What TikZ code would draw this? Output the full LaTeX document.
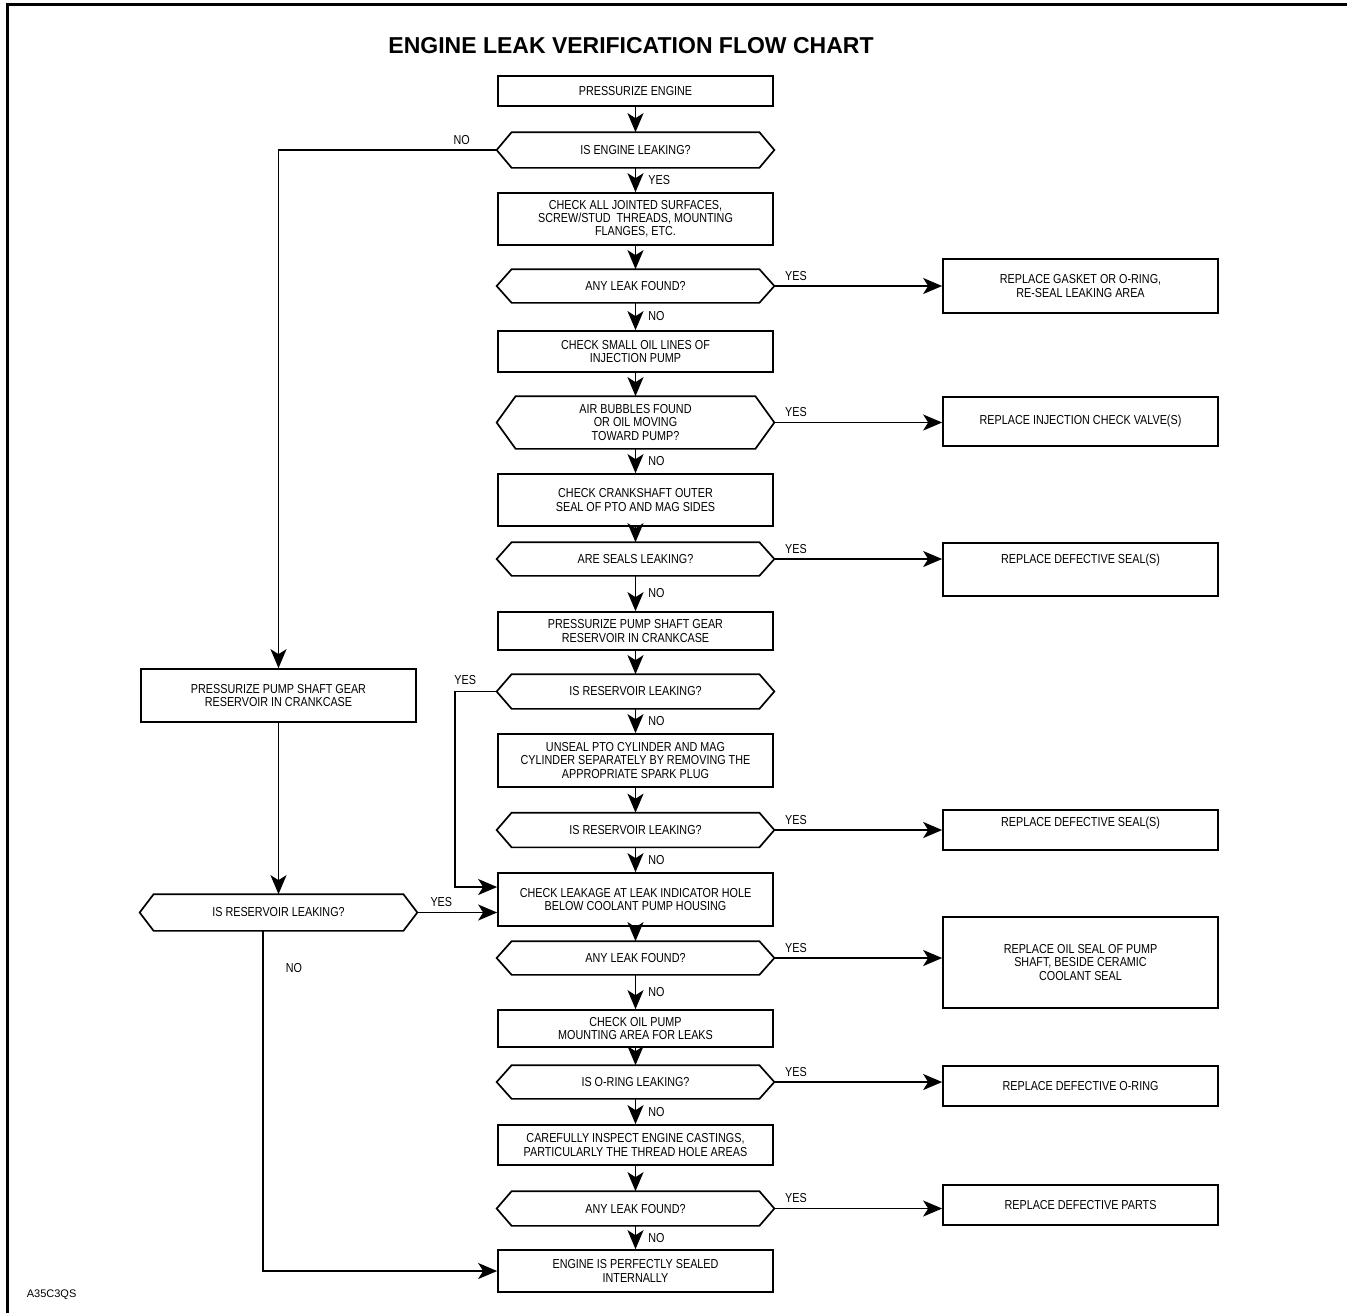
\documentclass[tikz,border=0pt]{standalone}
\usepackage{fontspec}
\setmainfont{Liberation Sans}
\newfontfamily\condfont{Liberation Sans}[FakeStretch=0.83]
\usetikzlibrary{arrows.meta}

\begin{document}
\begin{tikzpicture}[
            x=0.5pt, y=-0.5pt,
            line width=0.85pt,
            every node/.style = {inner sep=0pt, align=center, font=\condfont\fontsize{6.5}{6.6}\selectfont},
            stepbox/.style = {draw, line width=0.85pt, minimum width=137.5pt},
            query/.style = {minimum width=138pt},
            arr/.style = {-{Stealth[length=9.5pt, width=8pt, inset=2.5pt]}},
            lbl/.style = {inner sep=1pt}
          ]
          \useasboundingbox (0,0) rectangle (1347,1313);
          \draw[line width=1.5pt] (7.5,1313) -- (7.5,4.5) -- (1347,4.5);
          \node[font=\bfseries\fontsize{11.5}{12}\selectfont] (title) at (631,46) {ENGINE LEAK VERIFICATION FLOW CHART};
          \node[font=\fontsize{5.5}{6}\selectfont, anchor=west] (code) at (26,1295) {A35C3QS};

          \node[stepbox, minimum height=15pt] (b1) at (635.5,91) {PRESSURIZE ENGINE};
          \node[query, minimum height=17pt] (q1) at (635.5,150) {IS ENGINE LEAKING?};
          \node[stepbox, minimum height=26pt] (b2) at (635.5,219) {CHECK ALL JOINTED SURFACES,\\SCREW/STUD~ THREADS, MOUNTING\\FLANGES, ETC.};
          \node[query, minimum height=16pt] (q2) at (635.5,286) {ANY LEAK FOUND?};
          \node[stepbox, minimum height=20.5pt] (b3) at (635.5,351.5) {CHECK SMALL OIL LINES OF\\INJECTION PUMP};
          \node[query, minimum height=25.5pt] (q3) at (635.5,422.5) {AIR BUBBLES FOUND\\OR OIL MOVING\\TOWARD PUMP?};
          \node[stepbox, minimum height=26pt] (b4) at (635.5,500) {CHECK CRANKSHAFT OUTER\\SEAL OF PTO AND MAG SIDES};
          \node[query, minimum height=16pt] (q4) at (635.5,559) {ARE SEALS LEAKING?};
          \node[stepbox, minimum height=19pt] (b5) at (635.5,631) {PRESSURIZE PUMP SHAFT GEAR\\RESERVOIR IN CRANKCASE};
          \node[query, minimum height=16.5pt] (q5) at (635.5,691.5) {IS RESERVOIR LEAKING?};
          \node[stepbox, minimum height=26.5pt] (b6) at (635.5,760.5) {UNSEAL PTO CYLINDER AND MAG\\CYLINDER SEPARATELY BY REMOVING THE\\APPROPRIATE SPARK PLUG};
          \node[query, minimum height=16.5pt] (q6) at (635.5,830) {IS RESERVOIR LEAKING?};
          \node[stepbox, minimum height=26.5pt] (b7) at (635.5,899.5) {CHECK LEAKAGE AT LEAK INDICATOR HOLE\\BELOW COOLANT PUMP HOUSING};
          \node[query, minimum height=16pt] (q7) at (635.5,958) {ANY LEAK FOUND?};
          \node[stepbox, minimum height=18.5pt] (b8) at (635.5,1028.5) {CHECK OIL PUMP\\MOUNTING AREA FOR LEAKS};
          \node[query, minimum height=16pt] (q8) at (635.5,1082) {IS O-RING LEAKING?};
          \node[stepbox, minimum height=20pt] (b9) at (635.5,1145) {CAREFULLY INSPECT ENGINE CASTINGS,\\PARTICULARLY THE THREAD HOLE AREAS};
          \node[query, minimum height=16.5pt] (q9) at (635.5,1208.5) {ANY LEAK FOUND?};
          \node[stepbox, minimum height=21pt] (b10) at (635.5,1271) {ENGINE IS PERFECTLY SEALED\\INTERNALLY};

          \node[stepbox, minimum height=27pt] (r1) at (1080.5,286) {REPLACE GASKET OR O-RING,\\RE-SEAL LEAKING AREA};
          \node[stepbox, minimum height=24.5pt] (r2) at (1080.5,421.5) {REPLACE INJECTION CHECK VALVE(S)};
          \node[stepbox, text height=10.3pt, text depth=16.2pt, anchor=base] (r3) at (1080.5,563.6) {REPLACE DEFECTIVE SEAL(S)};
          \node[stepbox, text height=8.3pt, text depth=11.7pt, anchor=base] (r4) at (1080.5,826.6) {REPLACE DEFECTIVE SEAL(S)};
          \node[stepbox, minimum height=45.5pt] (r5) at (1080.5,962.5) {REPLACE OIL SEAL OF PUMP\\SHAFT, BESIDE CERAMIC\\COOLANT SEAL};
          \node[stepbox, minimum height=20pt] (r6) at (1080.5,1086) {REPLACE DEFECTIVE O-RING};
          \node[stepbox, minimum height=20pt] (r7) at (1080.5,1205) {REPLACE DEFECTIVE PARTS};

          \node[stepbox, minimum height=26.5pt] (l1) at (278.5,695.5) {PRESSURIZE PUMP SHAFT GEAR\\RESERVOIR IN CRANKCASE};
          \node[query, minimum height=17.5pt] (lq) at (278.5,912.5) {IS RESERVOIR LEAKING?};

          \foreach \q/\d in {q1/7.5, q2/7.5, q3/9.5, q4/7.5, q5/7.5, q6/7.5, q7/7.5, q8/7.5, q9/7.5, lq/7}
            \draw[line width=0.85pt] (\q.west) -- ([xshift=\d pt]\q.north west) -- ([xshift=-\d pt]\q.north east)
              -- (\q.east) -- ([xshift=-\d pt]\q.south east) -- ([xshift=\d pt]\q.south west) -- cycle;

          \foreach \a/\b in {b1/q1, b2/q2, b3/q3, b4/q4, b5/q5, b6/q6, b7/q7, b8/q8, b9/q9}
            \draw[arr] (\a) -- (\b);
          \foreach \a/\b/\t in {q1/b2/YES, q2/b3/NO, q3/b4/NO, q4/b5/NO, q5/b6/NO, q6/b7/NO, q7/b8/NO, q8/b9/NO, q9/b10/NO}
            \draw[arr] (\a) -- node[lbl, right=5pt] {\t} (\b);
          \foreach \a/\b in {q2/r1, q3/r2, q4/r3, q6/r4, q7/r5, q8/r6, q9/r7}
            \draw[arr] (\a.east) -- node[lbl, pos=0, anchor=south west, xshift=4pt, yshift=1.5pt] {YES} (\a.east -| \b.west);

          \draw[arr] (q1.west) -| node[lbl, above, pos=0.08, yshift=1.5pt] {NO} (l1.north);
          \draw[arr] (l1) -- (lq);
          \draw[arr] (lq.east) -- node[lbl, above, pos=0.3, yshift=1.5pt] {YES} (lq.east -| b7.west);
          \draw[arr] ([xshift=-7.75pt]lq.south) |- node[lbl, right=10pt, pos=0.054] {NO} (b10.west);
          \draw[arr] (q5.west) -- node[lbl, above, pos=0.75, yshift=2pt] {YES} ++(-42,0) |- ([yshift=6.25pt]b7.west);
        \end{tikzpicture}
\end{document}
